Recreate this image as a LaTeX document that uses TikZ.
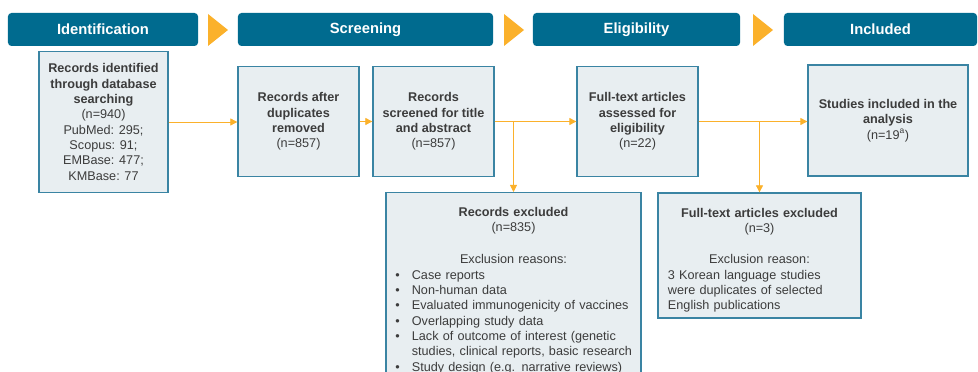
\documentclass[tikz,border=0pt]{standalone}
\usepackage{fontspec}
\setmainfont{Liberation Sans}
\usepackage{tikz}
\usetikzlibrary{arrows.meta}
\definecolor{hdrblue}{HTML}{006B8F}
\definecolor{boxfill}{HTML}{E8EEF1}
\definecolor{boxline}{HTML}{3A84A3}
\definecolor{flowarrow}{HTML}{FBB12B}
\definecolor{txtgray}{HTML}{3C3C3C}

\begin{document}
\begin{tikzpicture}[x=0.025cm,y=-0.025cm,
  phase/.style={shape=rectangle,rounded corners=2.5pt,fill=hdrblue,text=white,font=\fontsize{10.5}{12}\selectfont\bfseries,minimum height=0.825cm,inner sep=0pt},
  recbox/.style={shape=rectangle,draw=boxline,line width=0.9pt,fill=boxfill,text=txtgray,font=\fontsize{9}{10.9}\selectfont,align=center,inner sep=0pt},
  boxtext/.style={anchor=north,align=left,inner sep=0pt,text=txtgray,font=\fontsize{9}{10.9}\selectfont},
  flow/.style={draw=flowarrow,line width=0.6pt,-{Triangle[length=5pt,width=5pt]}}]
\useasboundingbox (0,0) rectangle (978,372);
\clip (0,0) rectangle (978,372);

% phase headers and the chevrons between them
\draw (103,29.5) node (hid) [phase,minimum width=4.75cm] {Identification};
\draw (365.5,29.5) node (hscr) [phase,minimum width=6.375cm] {Screening};
\draw (636.5,29.5) node (helig) [phase,minimum width=5.175cm] {Eligibility};
\draw (880.5,29.5) node (hincl) [phase,minimum width=4.825cm] {Included};
\fill[flowarrow] (208,14) -- (228,30) -- (208,46) -- cycle;
\fill[flowarrow] (504,14) -- (524,30) -- (504,46) -- cycle;
\fill[flowarrow] (753,14) -- (773,30) -- (753,46) -- cycle;

% record boxes
\draw (103.5,122) node (ident) [recbox,minimum width=3.225cm,minimum height=3.525cm] {\textbf{Records identified}\\\textbf{through database}\\\textbf{searching}\\(n=940)\\PubMed: 295;\\Scopus: 91;\\EMBase: 477;\\KMBase: 77};
\draw (298.5,121.5) node (dedup) [recbox,minimum width=3.025cm,minimum height=2.75cm] {\textbf{Records after}\\\textbf{duplicates}\\\textbf{removed}\\(n=857)};
\draw (433.5,121.5) node (screen) [recbox,minimum width=3.025cm,minimum height=2.75cm] {\textbf{Records}\\\textbf{screened for title}\\\textbf{and abstract}\\(n=857)};
\draw (637.5,121.5) node (full) [recbox,minimum width=3.025cm,minimum height=2.75cm] {\textbf{Full-text articles}\\\textbf{assessed for}\\\textbf{eligibility}\\(n=22)};
\draw (888,120.5) node (incl) [recbox,minimum width=4cm,minimum height=2.775cm] {\textbf{Studies included in the}\\\textbf{analysis}\\(n=19\textsuperscript{a})};

% exclusion boxes, text set apart so it can start at the top
\draw (513.5,192) node (excl) [recbox,anchor=north,minimum width=6.375cm,minimum height=5.5cm] {};
\draw (513.5,207) node (excltxt) [boxtext,text width=5.9cm] {{\centering\textbf{Records excluded}\\(n=835)\\[11.6pt]Exclusion reasons:\par}
\vspace{2.6pt}
\noindent\begin{tabular}{@{}l@{\hspace{8.5pt}}l@{}}
\textbullet & Case reports\\
\textbullet & Non-human data\\
\textbullet & Evaluated immunogenicity of vaccines\\
\textbullet & Overlapping study data\\
\textbullet & Lack of outcome of interest (genetic\\
 & studies, clinical reports, basic research\\
\textbullet & Study design (e.g. narrative reviews)
\end{tabular}};

\draw (759.5,255.5) node (exft) [recbox,minimum width=5.075cm,minimum height=3.125cm] {};
\draw (759.5,208) node (exfttxt) [boxtext,text width=4.575cm] {{\centering\textbf{Full-text articles excluded}\\(n=3)\\[11.2pt]Exclusion reason:\par}3 Korean language studies\\were duplicates of selected\\English publications};

% flow connectors
\draw[flow] (ident.east) -- (ident.east -| dedup.west);
\draw[flow] (dedup) -- (screen);
\draw[flow] (screen) -- (full);
\draw[flow] (full.east) -- (full.east -| incl.west);
\draw[flow] (screen.east -| excl.north) -- (excl.north);
\draw[flow] (full.east -| exft.north) -- (exft.north);
\end{tikzpicture}
\end{document}
